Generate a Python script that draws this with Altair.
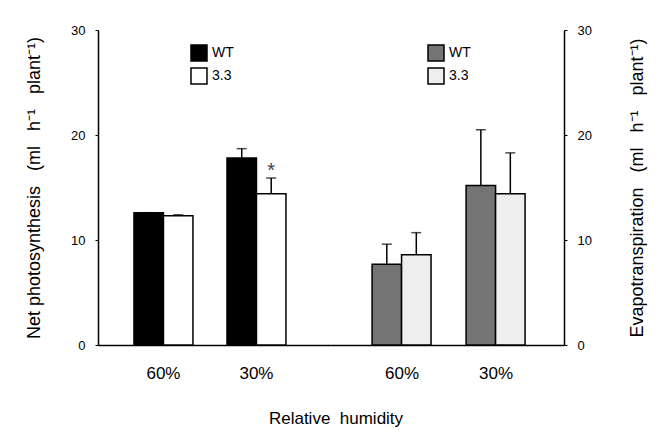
import altair as alt
import pandas as pd

humidity = ["60%", "30%"]
genotypes = ["WT", "3.3"]

photo_wt = [12.6, 17.8]
photo_wt_err = [0.0, 0.9]
photo_33 = [12.3, 14.4]
photo_33_err = [0.1, 1.5]
photo_33_sig = ["", "*"]

evap_wt = [7.7, 15.2]
evap_wt_err = [1.9, 5.3]
evap_33 = [8.6, 14.4]
evap_33_err = [2.1, 3.9]

FONT = "Liberation Sans"
SP = "\u00a0\u00a0\u00a0"
SP2 = "\u00a0\u00a0"


def make_df(wt, wt_err, t33, t33_err, sig33=None):
    rows = []
    for i, h in enumerate(humidity):
        rows.append(dict(humidity=h, genotype="WT", value=wt[i], top=wt[i] + wt_err[i], sig=""))
        rows.append(dict(humidity=h, genotype="3.3", value=t33[i], top=t33[i] + t33_err[i],
                         sig=(sig33[i] if sig33 else "")))
    return pd.DataFrame(rows)


def panel(df, colors, ytitle, yorient, pin, pout, align, lx, ly, title_pad, title_angle):
    base = alt.Chart(df).encode(
        x=alt.X("humidity:N", sort=humidity,
                scale=alt.Scale(paddingInner=pin, paddingOuter=pout, align=align),
                axis=alt.Axis(title=None, labelAngle=0, ticks=False, labelFontSize=17,
                              labelPadding=20, labelFont=FONT, labelColor="black",
                              domainColor="black", domainWidth=1.5)),
        xOffset=alt.XOffset("genotype:N", sort=genotypes,
                            scale=alt.Scale(paddingInner=0, paddingOuter=0)),
    )
    yscale = alt.Scale(domain=[0, 30])
    bars = base.mark_bar(stroke="black", strokeWidth=1.5).encode(
        y=alt.Y("value:Q", scale=yscale,
                axis=alt.Axis(title=ytitle, orient=yorient, values=[0, 10, 20, 30],
                              grid=False, tickSize=3, tickColor="black", labelPadding=10,
                              labelFontSize=13, labelFont=FONT, labelColor="black",
                              domainColor="black", domainWidth=1.5,
                              titleFont=FONT, titleFontSize=18, titleFontWeight="normal",
                              titleColor="black", titlePadding=title_pad,
                              titleAngle=title_angle)),
        fill=alt.Fill("genotype:N", sort=genotypes,
                      scale=alt.Scale(domain=genotypes, range=colors),
                      legend=alt.Legend(title=None, orient="none", legendX=lx, legendY=ly,
                                        symbolType="square", symbolSize=256,
                                        symbolStrokeColor="black", symbolStrokeWidth=1.5,
                                        symbolOpacity=1,
                                        labelFont=FONT, labelFontSize=14, labelColor="black",
                                        rowPadding=1, labelOffset=4)),
    )
    rule = base.mark_rule(color="black", strokeWidth=1.5).encode(
        y=alt.Y("value:Q", scale=yscale), y2="top:Q")
    cap = base.mark_tick(color="black", thickness=1.5, size=10, orient="horizontal").encode(
        y=alt.Y("top:Q", scale=yscale))
    sig = base.mark_text(fontSize=20, font=FONT, color="#444", dy=-7, baseline="middle").encode(
        y=alt.Y("top:Q", scale=yscale), text="sig:N")
    return alt.layer(bars, rule, cap, sig).properties(width=233, height=315)


left = panel(make_df(photo_wt, photo_wt_err, photo_33, photo_33_err, photo_33_sig),
             ["black", "white"],
             f"Net photosynthesis{SP}(ml{SP}h\u207b\u00b9{SP}plant\u207b\u00b9)", "left",
             0.366, 0.4355, 0.444, 92, 14, 27, 270)
right = panel(make_df(evap_wt, evap_wt_err, evap_33, evap_33_err),
              ["#747474", "#eeeeee"],
              f"Evapotranspiration{SP}(ml{SP}h\u207b\u00b9{SP}plant\u207b\u00b9)", "right",
              0.362, 0.42, 0.52, 96, 14, 55, 270)

chart = alt.hconcat(left, right, spacing=0).resolve_scale(
    fill="independent", x="independent", y="independent"
).resolve_legend(fill="independent").properties(
    title=alt.TitleParams(f"Relative{SP2}humidity", orient="bottom", anchor="middle",
                          font=FONT, fontSize=17, fontWeight="normal", color="black", offset=30),
    padding={"top": 16, "left": 17, "right": 5, "bottom": 5},
).configure_view(stroke=None)

chart.save("out.html", embed_options={"renderer": "svg", "actions": False})
